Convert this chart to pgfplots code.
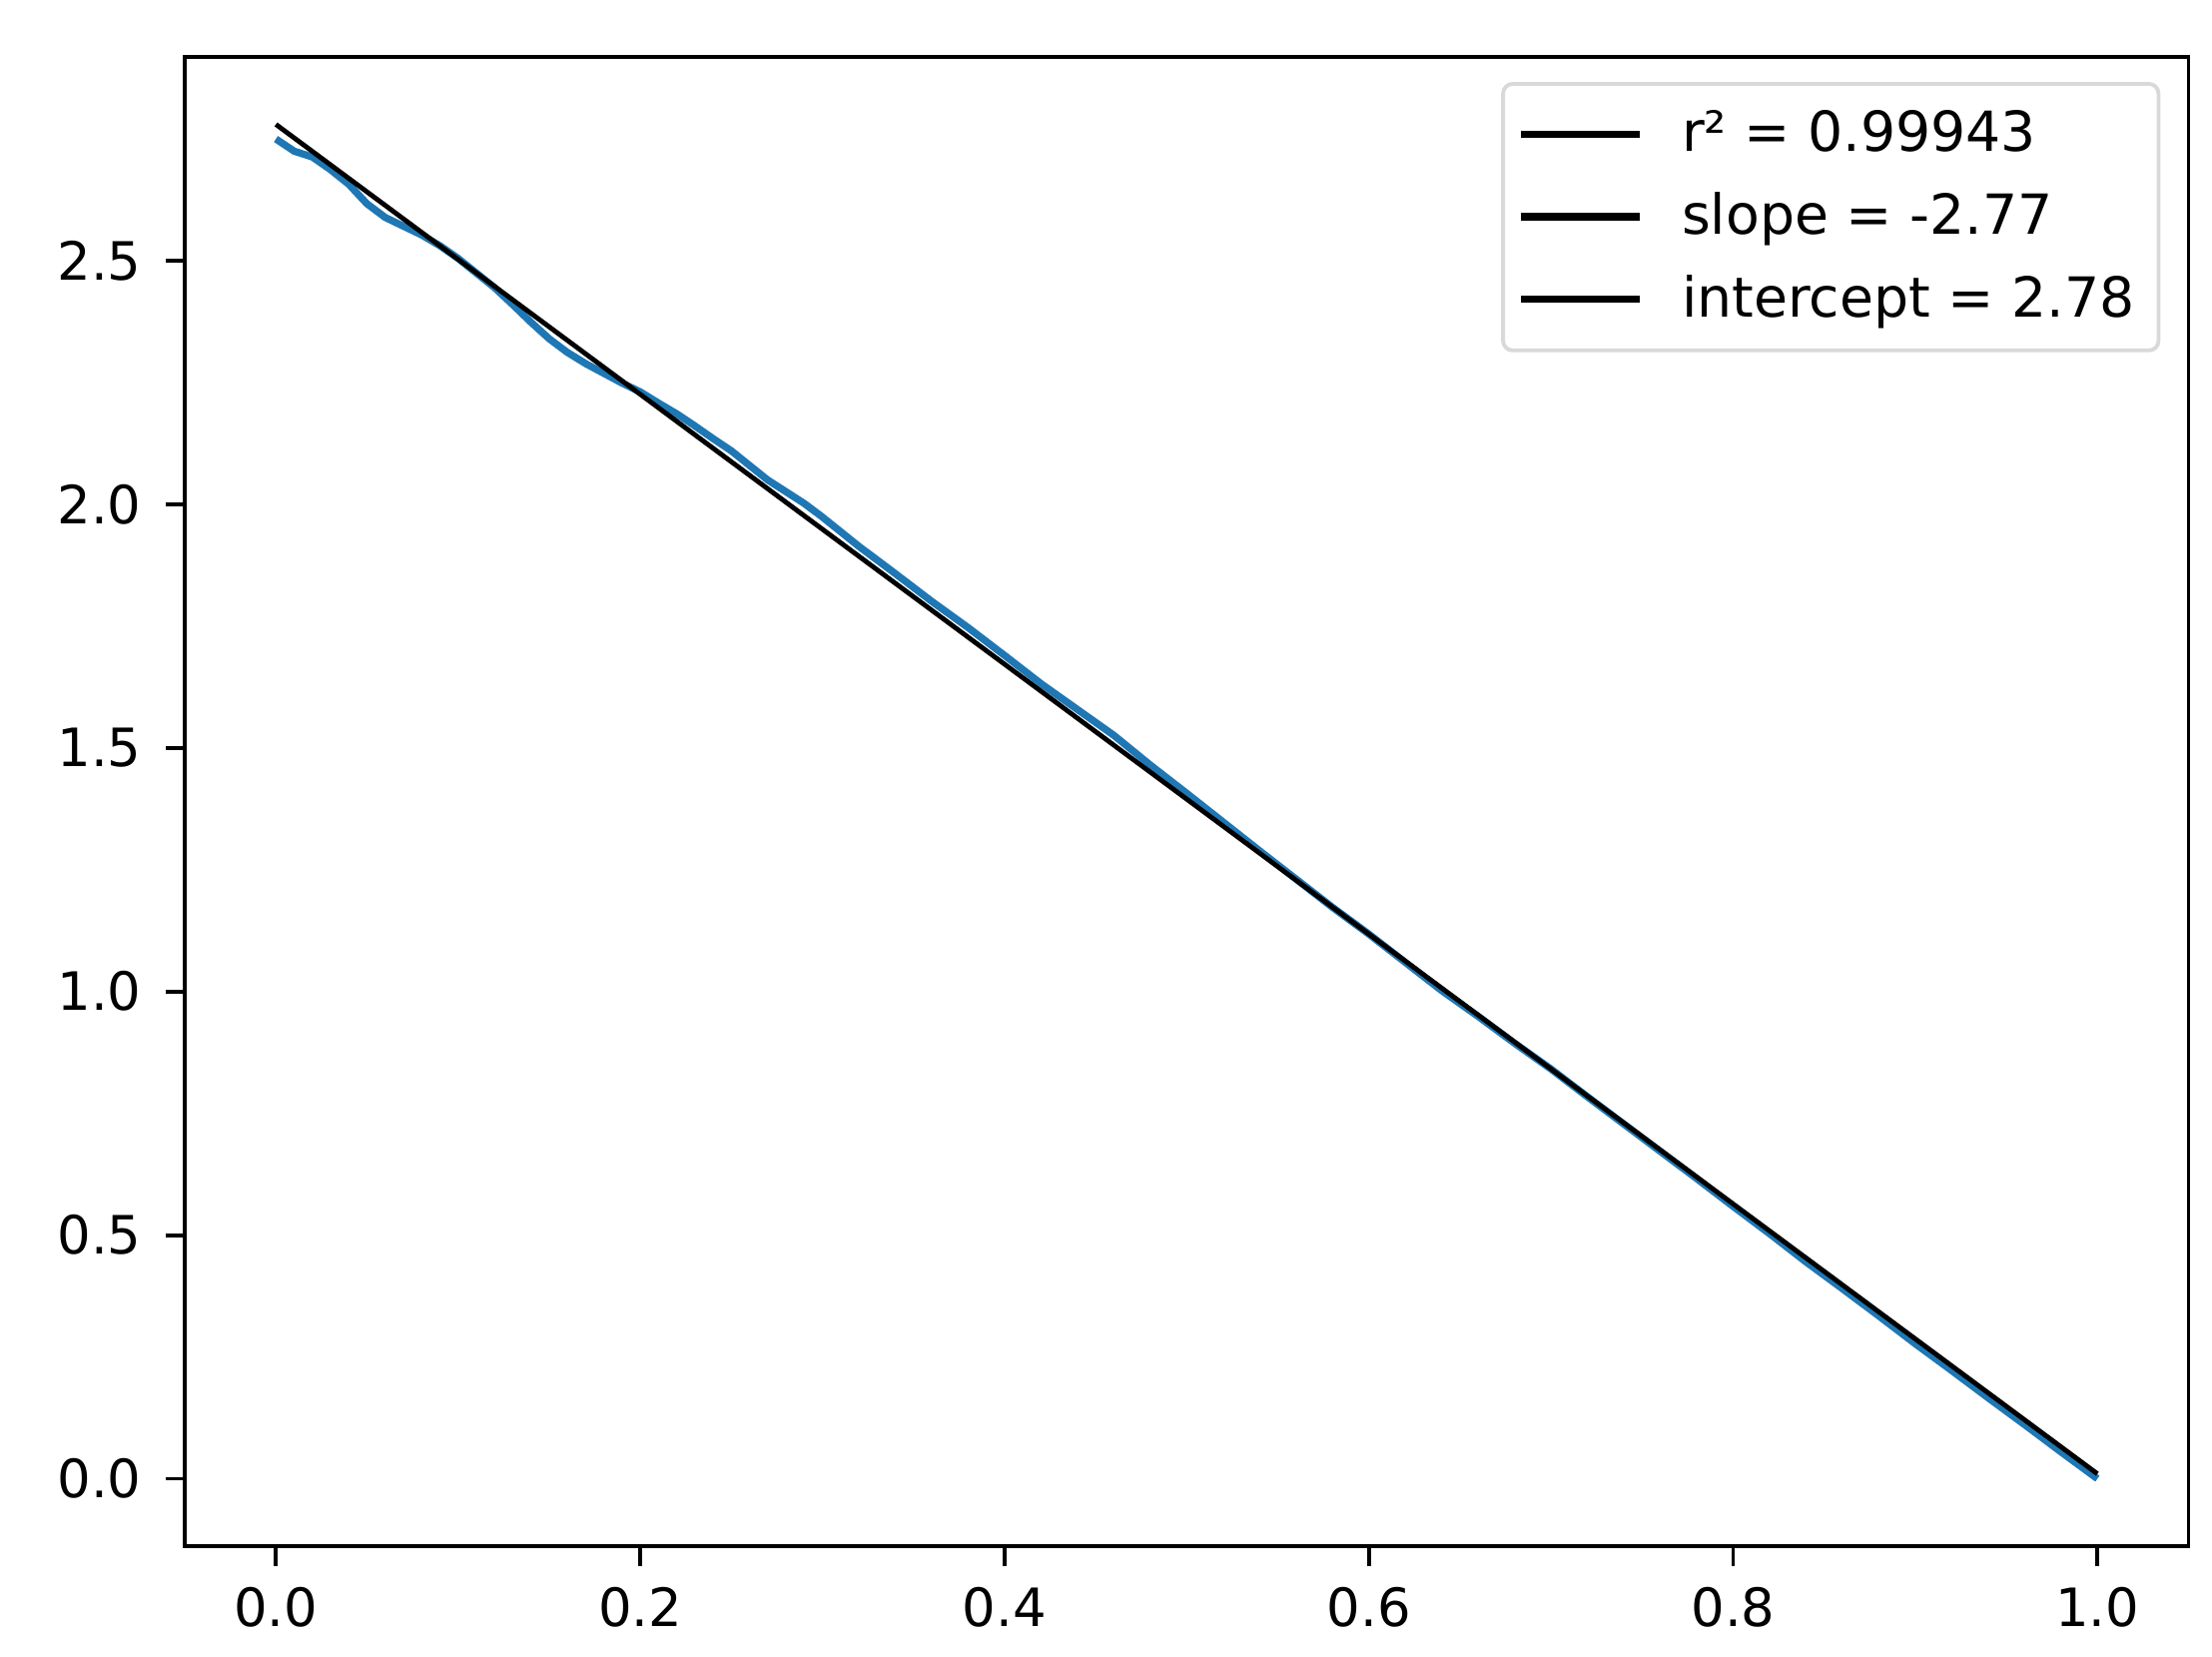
\documentclass[border=0pt]{standalone}
\usepackage{fontspec}
\setmainfont{DejaVu Sans}
\usepackage{pgfplots}
\pgfplotsset{compat=1.18}
\usetikzlibrary{calc}
\definecolor{tabblue}{HTML}{1F77B4}
\begin{document}
\begin{tikzpicture}
\begin{axis}[
  scale only axis,
  width=417.4pt, height=310.3pt,
  xmin=-0.05, xmax=1.05,
  ymin=-0.139, ymax=2.919,
  xtick={0,0.2,0.4,0.6,0.8,1.0},
  ytick={0,0.5,1.0,1.5,2.0,2.5},
  tick align=outside,
  tick pos=left,
  major tick length=4pt,
  every tick/.style={black, line width=0.8pt},
  axis line style={black, line width=0.8pt},
  /pgf/number format/assume math mode=true,
  ticklabel style={font=\fontsize{11}{13}\selectfont},
  xticklabel style={yshift=-1pt, /pgf/number format/.cd, fixed, fixed zerofill, precision=1},
  yticklabel style={xshift=-1.5pt, /pgf/number format/.cd, fixed, fixed zerofill, precision=1},
  legend cell align=left,
  legend style={at={(0.986,0.983)}, anchor=north east, draw=black!15, line width=0.8pt,
    rounded corners=2pt, font=\fontsize{11.5}{14}\selectfont, row sep=3pt,
    inner xsep=3pt, inner ysep=3.5pt, fill=white, fill opacity=0.8, text opacity=1},
  legend image code/.code={\draw[#1, line width=1.5pt] (0cm,0cm) -- (0.87cm,0cm) (1.08cm,0cm);},
]
\addplot[tabblue, line width=1.5pt, forget plot] coordinates {
(0.00,2.750) (0.01,2.725) (0.02,2.713) (0.03,2.687) (0.04,2.657) (0.05,2.617)
(0.06,2.589) (0.07,2.571) (0.08,2.553) (0.09,2.531) (0.10,2.505) (0.11,2.475)
(0.12,2.445) (0.13,2.410) (0.14,2.374) (0.15,2.340) (0.16,2.312) (0.17,2.289)
(0.18,2.269) (0.19,2.249) (0.20,2.231) (0.21,2.208) (0.22,2.186) (0.23,2.161)
(0.24,2.135) (0.25,2.110) (0.26,2.080) (0.27,2.050) (0.28,2.026) (0.29,2.002)
(0.30,1.974) (0.32,1.914) (0.34,1.858) (0.36,1.801) (0.38,1.747) (0.40,1.690)
(0.42,1.632) (0.44,1.579) (0.46,1.526) (0.48,1.465) (0.50,1.407) (0.52,1.348)
(0.54,1.289) (0.56,1.231) (0.58,1.173) (0.60,1.118) (0.62,1.060) (0.64,1.002)
(0.66,0.949) (0.68,0.894) (0.70,0.841) (0.72,0.784) (0.74,0.728) (0.76,0.672)
(0.78,0.616) (0.80,0.559) (0.82,0.503) (0.84,0.445) (0.86,0.390) (0.88,0.334)
(0.90,0.277) (0.92,0.222) (0.94,0.166) (0.96,0.111) (0.98,0.055) (1.00,0.000)
};
\addplot[black, line width=1pt, forget plot] coordinates {(0,2.78) (1,0.01)};
\addlegendimage{black}
\addlegendentry{r² = 0.99943}
\addlegendimage{black}
\addlegendentry{slope = -2.77}
\addlegendimage{black}
\addlegendentry{intercept = 2.78}
\end{axis}
\pgfresetboundingbox
\path ($(current axis.south west)+(-38.5pt,-23pt)$) rectangle ($(current axis.north east)+(4.9pt,11.8pt)$);
\end{tikzpicture}
\end{document}
